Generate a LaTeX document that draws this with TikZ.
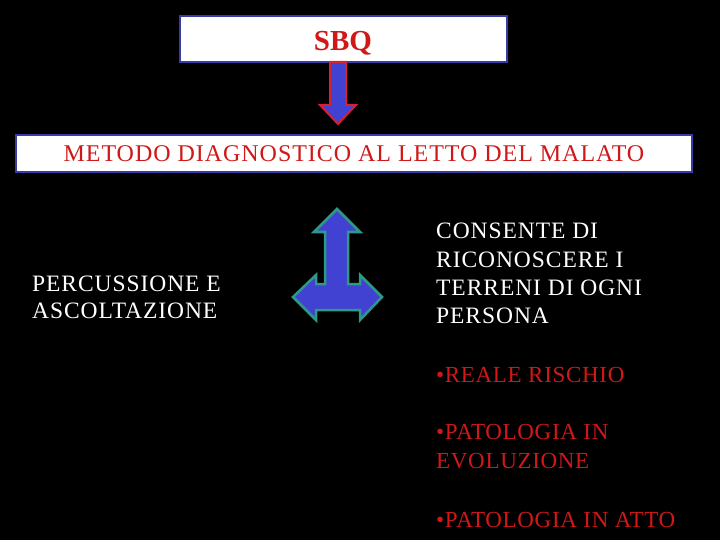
\documentclass[tikz,border=0pt]{standalone}
\usepackage{fontspec}
\setmainfont{Liberation Serif}
\definecolor{bordblue}{HTML}{3A3AA8}
\definecolor{txtred}{HTML}{D01818}
\definecolor{arrblue}{HTML}{4141D2}
\definecolor{arrteal}{HTML}{2C9A86}
\definecolor{arrred}{HTML}{D82030}
\begin{document}
\begin{tikzpicture}[x=1pt,y=-1pt,
  titlebox/.style={draw=bordblue,line width=2.5pt,fill=white},
  wtext/.style={anchor=base west,inner sep=0pt,text=white,font=\fontsize{23.5}{27}\selectfont\addfontfeature{LetterSpace=4}},
  rtext/.style={anchor=base west,inner sep=0pt,text=txtred,font=\fontsize{23}{27}\selectfont\addfontfeature{LetterSpace=3}}]
\useasboundingbox[fill=black] (0,0) rectangle (720,540);
% boxes
\draw[titlebox] (180,16) rectangle (507,62);
\node[anchor=base,inner sep=0pt,text=txtred,font=\fontsize{29}{32}\selectfont\bfseries] (sbq) at (343,51) {SBQ};
\draw[titlebox] (16,135) rectangle (692,172);
\node[anchor=base,inner sep=0pt,text=txtred,font=\fontsize{24}{28}\selectfont\addfontfeature{LetterSpace=4}] (metodo) at (354,162) {METODO DIAGNOSTICO AL LETTO DEL MALATO};
% down arrow
\draw[fill=arrblue,draw=arrred,line width=2pt,line join=miter]
  (330,62) -- (346,62) -- (346,105) -- (356,105) -- (338,124) -- (320,105) -- (330,105) -- cycle;
% triple arrow
\draw[fill=arrblue,draw=arrteal,line width=2.5pt,line join=miter]
  (337,209) -- (360,232) -- (348,232) -- (348,284) -- (360,284) -- (360,275) -- (382,297)
  -- (360,320) -- (360,310) -- (316,310) -- (316,320) -- (293,297) -- (316,275) -- (316,284)
  -- (325,284) -- (325,232) -- (314,232) -- cycle;
% left text
\node[wtext] (l1) at (32,291) {PERCUSSIONE E};
\node[wtext] (l2) at (32,318) {ASCOLTAZIONE};
% right text
\node[wtext] (r1) at (436,238) {CONSENTE DI};
\node[wtext] (r2) at (436,267) {RICONOSCERE I};
\node[wtext] (r3) at (436,295) {TERRENI DI OGNI};
\node[wtext] (r4) at (436,323) {PERSONA};
\node[rtext] (b1) at (436,382) {•REALE RISCHIO};
\node[rtext] (b2) at (436,439) {•PATOLOGIA IN};
\node[rtext] (b3) at (436,468) {EVOLUZIONE};
\node[rtext] (b4) at (436,527) {•PATOLOGIA IN ATTO};
\end{tikzpicture}
\end{document}
